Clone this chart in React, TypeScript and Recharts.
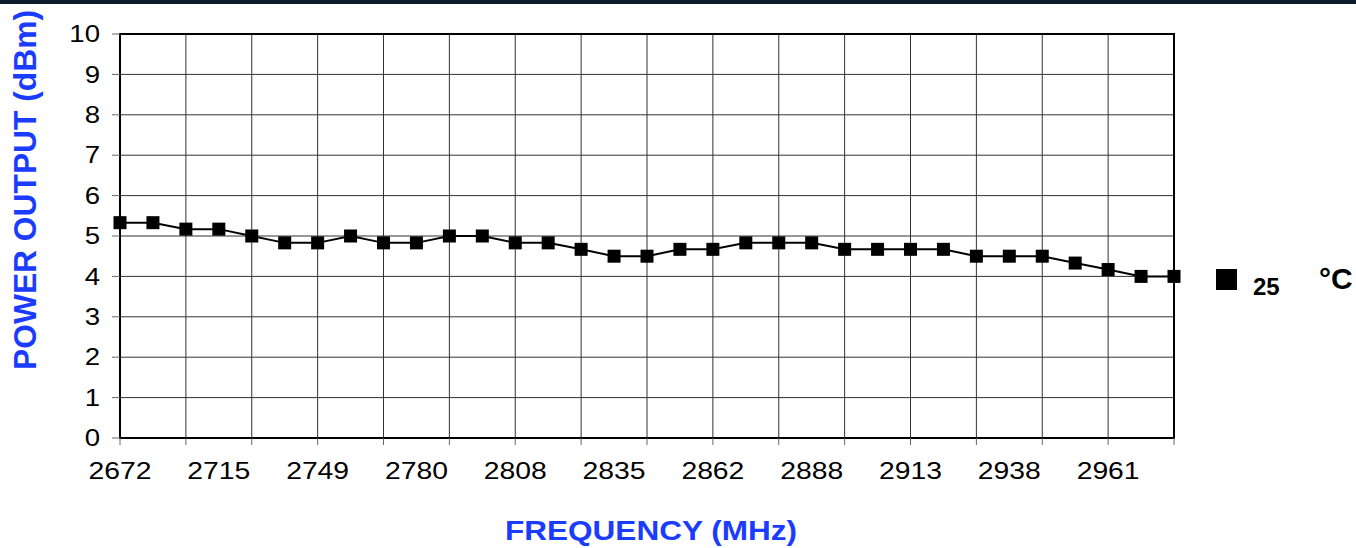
import { LineChart, Line, XAxis, YAxis, CartesianGrid, ReferenceArea, Legend } from "recharts";

const powerDbm = [
  5.33, 5.33, 5.17, 5.17, 5.0, 4.83, 4.83, 5.0, 4.83, 4.83, 5.0,
  5.0, 4.83, 4.83, 4.67, 4.5, 4.5, 4.67, 4.67, 4.83, 4.83, 4.83,
  4.67, 4.67, 4.67, 4.67, 4.5, 4.5, 4.5, 4.33, 4.17, 4.0, 4.0,
];

// frequency labels shown on every 3rd step
const freqLabels = ["2672", "2715", "2749", "2780", "2808", "2835", "2862", "2888", "2913", "2938", "2961"];
const labelEvery = 3;
const gridEvery = 2;

const yTicks = [0, 1, 2, 3, 4, 5, 6, 7, 8, 9, 10];
const seriesName = "25";

const FONT = "'Liberation Sans', Arial, sans-serif";
const BLUE = "#1a3cff";

const lastIdx = powerDbm.length - 1;
const data = powerDbm.map((power, idx) => ({ idx, power }));
const steps = powerDbm.map((_, i) => i);
const gridIdx = steps.filter((i) => i % gridEvery === 0);
const xTicks = steps.filter((i) => i % gridEvery === 0 || i % labelEvery === 0);

const FreqTick = ({ x, y, payload }: any) => {
  const i = payload.value;
  return (
    <g>
      {i % gridEvery === 0 && <line x1={x} x2={x} y1={y} y2={y + 7} stroke="#666" strokeWidth={1} />}
      {i % labelEvery === 0 && (
        <text
          transform={`translate(${x},${y + 41}) scale(1.18,1)`}
          textAnchor="middle"
          fontFamily={FONT}
          fontSize={24}
          fill="#000"
        >
          {freqLabels[i / labelEvery]}
        </text>
      )}
    </g>
  );
};

const PowerTick = ({ x, y, payload }: any) => (
  <g>
    <line x1={x - 8} x2={x} y1={y} y2={y} stroke="#666" strokeWidth={1} />
    <text
      transform={`translate(${x - 20},${y}) scale(1.2,1)`}
      textAnchor="end"
      dy="0.36em"
      fontFamily={FONT}
      fontSize={23}
      fill="#000"
    >
      {payload.value}
    </text>
  </g>
);

const SquareDot = ({ cx, cy }: any) => {
  if (cx == null || cy == null) return null;
  return <rect x={cx - 6.5} y={cy - 6.5} width={13} height={13} fill="#000" />;
};

const YTitle = () => (
  <text
    transform="translate(36,190) rotate(-90)"
    textAnchor="middle"
    fontFamily={FONT}
    fontWeight="bold"
    fontSize={31}
    textLength={360}
    lengthAdjust="spacingAndGlyphs"
    fill={BLUE}
  >
    POWER OUTPUT (dBm)
  </text>
);

const XTitle = ({ viewBox }: any) => (
  <text
    x={viewBox.x + viewBox.width / 2 + 4}
    y={viewBox.y + 102}
    textAnchor="middle"
    fontFamily={FONT}
    fontWeight="bold"
    fontSize={28}
    textLength={292}
    lengthAdjust="spacingAndGlyphs"
    fill={BLUE}
  >
    FREQUENCY (MHz)
  </text>
);

const TempLegend = () => (
  <svg width={150} height={45}>
    <rect x={11} y={14} width={21} height={21} fill="#000" />
    <text x={48} y={40} fontFamily={FONT} fontWeight="bold" fontSize={24} fill="#000">
      {seriesName}
    </text>
    <text x={114} y={34} fontFamily={FONT} fontWeight="bold" fontSize={30} fill="#000">
      °C
    </text>
  </svg>
);

export default function App() {
  return (
    <div style={{ position: "absolute", left: 0, top: 0, width: 1356, height: 548, background: "#fff" }}>
      <div style={{ position: "absolute", left: 0, top: 0, width: 1356, height: 4, background: "#0b1b2d" }} />
      <LineChart width={1356} height={548} data={data} margin={{ top: 34, right: 182, bottom: 0, left: 0 }}>
        <CartesianGrid stroke="#333" strokeWidth={1} verticalValues={gridIdx} />
        <XAxis
          dataKey="idx"
          type="number"
          domain={[0, lastIdx]}
          ticks={xTicks}
          interval={0}
          height={110}
          tickSize={0}
          tickMargin={0}
          tickLine={false}
          axisLine={false}
          tick={<FreqTick />}
          label={<XTitle />}
        />
        <YAxis
          type="number"
          domain={[0, 10]}
          ticks={yTicks}
          interval={0}
          width={120}
          tickSize={0}
          tickMargin={0}
          tickLine={false}
          axisLine={false}
          tick={<PowerTick />}
          label={<YTitle />}
        />
        <ReferenceArea x1={0} x2={lastIdx} y1={0} y2={10} fill="none" stroke="#000" strokeWidth={2} />
        <Legend
          layout="horizontal"
          align="center"
          verticalAlign="middle"
          content={<TempLegend />}
          wrapperStyle={{ position: "absolute", left: 1205, top: 255, width: 150, height: 45 }}
        />
        <Line
          type="linear"
          dataKey="power"
          name={seriesName}
          stroke="#000"
          strokeWidth={2}
          dot={<SquareDot />}
          isAnimationActive={false}
        />
      </LineChart>
    </div>
  );
}
